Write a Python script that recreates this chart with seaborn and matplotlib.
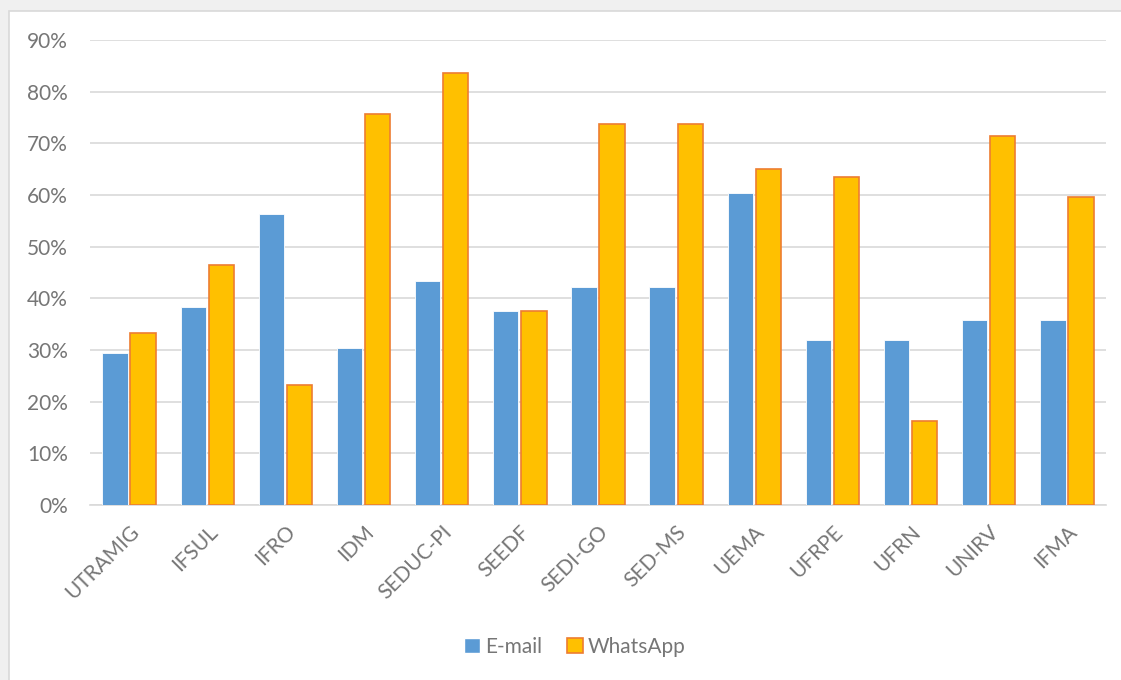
import matplotlib
matplotlib.use("Agg")
import matplotlib.pyplot as plt
from matplotlib.patches import Rectangle
from matplotlib.ticker import PercentFormatter
import seaborn as sns
import pandas as pd

categories = ["UTRAMIG", "IFSUL", "IFRO", "IDM", "SEDUC-PI", "SEEDF", "SEDI-GO",
              "SED-MS", "UEMA", "UFRPE", "UFRN", "UNIRV", "IFMA"]
email = [29.4, 38.3, 56.3, 30.4, 43.4, 37.5, 42.2, 42.2, 60.4, 31.9, 31.9, 35.8, 35.8]
whatsapp = [33.3, 46.4, 23.2, 75.7, 83.6, 37.5, 73.7, 73.7, 65.0, 63.5, 16.3, 71.4, 59.6]
series = ["E-mail", "WhatsApp"]
yticks = [0, 10, 20, 30, 40, 50, 60, 70, 80, 90]

df = pd.DataFrame({
    "cat": categories * 2,
    "val": email + whatsapp,
    "series": [series[0]] * len(categories) + [series[1]] * len(categories),
})

sns.set_theme(style="white")
plt.rcParams["font.family"] = ["Lato", "DejaVu Sans"]

fig = plt.figure(figsize=(11.21, 6.80), dpi=100)
fig.patch.set_facecolor("#f0f0f0")
bg = Rectangle((9 / 1121, -0.01), 1.0, 1.01 - 11 / 680,
               transform=fig.transFigure, facecolor="white",
               edgecolor="#d9d9d9", linewidth=1.2, zorder=-10)
fig.patches.append(bg)

ax = fig.add_axes([90 / 1121, 1 - 505 / 680, (1106 - 90) / 1121, (505 - 40) / 680])
ax.set_facecolor("none")
ax.set_zorder(1)

palette = {"E-mail": "#5B9BD5", "WhatsApp": "#FFC000"}
sns.barplot(data=df, x="cat", y="val", hue="series", palette=palette,
            width=0.72, gap=0.1, ax=ax, zorder=3, saturation=1)

for patch, s in zip(ax.patches, ["E-mail"] * len(categories) + ["WhatsApp"] * len(categories)):
    if s == "WhatsApp":
        patch.set_edgecolor("#ED7D31")
        patch.set_linewidth(1.2)
    else:
        patch.set_edgecolor("white")
        patch.set_linewidth(0.6)

ax.set_ylim(0, 90)
ax.set_yticks(yticks)
ax.yaxis.set_major_formatter(PercentFormatter(decimals=0))
ax.grid(axis="y", color="#d9d9d9", linewidth=1.2, zorder=0)
ax.set_axisbelow(True)
ax.set_xlim(-0.5, len(categories) - 0.5)
for side in ["top", "right", "left"]:
    ax.spines[side].set_visible(False)
ax.spines["bottom"].set_color("#d9d9d9")
ax.spines["bottom"].set_linewidth(1.2)
ax.set_xlabel("")
ax.set_ylabel("")
ax.tick_params(axis="both", length=0, colors="#767676", labelsize=15)
ax.tick_params(axis="y", pad=16)
ax.tick_params(axis="x", pad=12)
for lbl in ax.get_xticklabels():
    lbl.set_rotation(45)
    lbl.set_ha("right")
    lbl.set_rotation_mode("anchor")

handles, labels = ax.get_legend_handles_labels()
ax.get_legend().remove()
leg = fig.legend(handles, labels, loc="center", bbox_to_anchor=(575 / 1121, 1 - 647 / 680),
                 ncol=2, frameon=False, fontsize=15, handlelength=0.75, handleheight=0.75,
                 handletextpad=0.25, columnspacing=1.2, labelcolor="#767676")
lh = leg.legend_handles
lh[1].set_edgecolor("#ED7D31")
lh[1].set_linewidth(1.2)

fig.savefig("out.png", dpi=100, facecolor=fig.get_facecolor())
